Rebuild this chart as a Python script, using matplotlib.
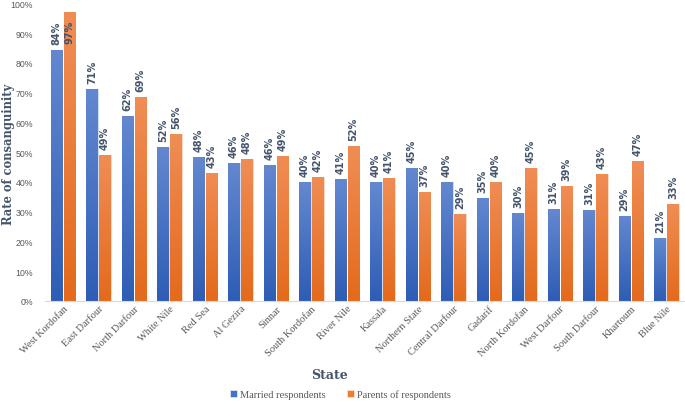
import numpy as np
import matplotlib
matplotlib.use("Agg")
import matplotlib.pyplot as plt
from matplotlib.ticker import PercentFormatter
from matplotlib.colors import LinearSegmentedColormap

# Data (percent)
states = ["West Kordofan", "East Darfour", "North Darfour", "White Nile", "Red Sea",
          "Al Gezira", "Sinnar", "South Kordofan", "River Nile", "Kassala",
          "Northern State", "Central Darfour", "Gadarif", "North Kordofan",
          "West Darfour", "South Darfour", "Khartoum", "Blue Nile"]
married = [84.4, 71.4, 62.2, 51.8, 48.3, 46.5, 45.7, 39.9, 41.0, 39.9,
           44.8, 39.9, 34.6, 29.6, 30.8, 30.6, 28.6, 21.2]
parents = [97.0, 49.2, 68.6, 56.2, 43.1, 47.6, 48.6, 41.6, 52.2, 41.2,
           36.7, 29.2, 40.1, 44.6, 38.6, 42.7, 47.0, 32.6]
series_names = ["Married respondents", "Parents of respondents"]

blue_cmap = LinearSegmentedColormap.from_list("b", ["#2E5DB5", "#6388D0"])
orange_cmap = LinearSegmentedColormap.from_list("o", ["#E46A1C", "#F08D55"])

fig = plt.figure(figsize=(6.85, 4.02), dpi=100)
ax = fig.add_axes([0.066, 0.249, 0.933, 0.74])

x = np.arange(len(states))
w = 0.33
gap = 0.02
bars1 = ax.bar(x - w / 2 - gap, married, w, color="#4472C4", edgecolor="#DCE4F2",
               linewidth=0.6, label=series_names[0])
bars2 = ax.bar(x + w / 2 + gap, parents, w, color="#ED7D31", edgecolor="#FBE0CF",
               linewidth=0.6, label=series_names[1])

# vertical gradient fill for each bar
grad = np.linspace(0, 1, 100).reshape(-1, 1)
for bars, cmap in [(bars1, blue_cmap), (bars2, orange_cmap)]:
    for b in bars:
        x0, y0 = b.get_x(), b.get_y()
        im = ax.imshow(grad, cmap=cmap, aspect="auto", origin="lower",
                       extent=[x0, x0 + b.get_width(), y0, y0 + b.get_height()],
                       zorder=b.get_zorder() + 0.1)
        im.set_clip_path(b)

# data labels (the tallest one sits inside the bar, like the original)
for bars, vals in [(bars1, married), (bars2, parents)]:
    for b, v in zip(bars, vals):
        cx = b.get_x() + b.get_width() / 2
        if v > 90:
            ax.text(cx, v - 2.5, f"{round(v)}%", rotation=90, ha="center", va="top",
                    fontsize=7, color="#44546A", fontweight="bold", zorder=5)
        else:
            ax.text(cx, v + 2, f"{round(v)}%", rotation=90, ha="center", va="bottom",
                    fontsize=7, color="#44546A", fontweight="bold", zorder=5)

ax.set_xlim(-0.5, len(states) - 0.5)
ax.set_ylim(0, 100)
ax.set_yticks(np.arange(0, 101, 10))
ax.yaxis.set_major_formatter(PercentFormatter(decimals=0))
ax.tick_params(axis="y", length=0, labelsize=6.3, labelcolor="#595959", pad=9)
for t in ax.get_yticklabels():
    t.set_family("Liberation Sans")
ax.tick_params(axis="x", length=0, pad=2)
ax.set_xticks(x)
ax.set_xticklabels(states, rotation=45, ha="right", rotation_mode="anchor",
                   fontsize=7.5, color="#595959", family="Liberation Serif")

for s in ["top", "right", "left"]:
    ax.spines[s].set_visible(False)
ax.spines["bottom"].set_color("#D9D9D9")

fig.text(0.012, 0.617, "Rate of consanguinity", fontsize=8.3, fontweight="bold",
         color="#44546A", family="DejaVu Serif", rotation=90,
         ha="center", va="center")
fig.text(0.481, 0.058, "State", fontsize=9, fontweight="bold",
         color="#44546A", family="DejaVu Serif", ha="center")

leg = fig.legend(handles=[bars1, bars2], labels=series_names, loc="lower center",
                 bbox_to_anchor=(0.497, -0.018), ncol=2, frameon=False,
                 prop={"family": "Liberation Serif", "size": 7.5},
                 handlelength=0.7, handleheight=0.7, columnspacing=2.0,
                 handletextpad=0.3)
for t in leg.get_texts():
    t.set_color("#595959")

fig.savefig("out.png", dpi=100)
